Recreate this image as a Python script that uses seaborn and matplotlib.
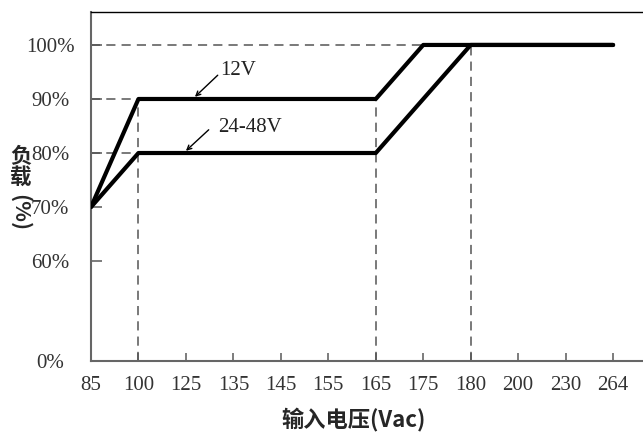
import matplotlib
matplotlib.use("Agg")
import matplotlib.pyplot as plt
import seaborn as sns
import pandas as pd

# input voltage ticks (evenly spaced categories on the chart)
voltages = ["85", "100", "125", "135", "145", "155", "165", "175", "180", "200", "230", "264"]
load_ticks = [0, 60, 70, 80, 90, 100]

# derating curves
v_12 = ["85", "100", "165", "175", "264"]
load_12 = [70, 90, 90, 100, 100]
v_24 = ["85", "100", "165", "180", "264"]
load_24 = [70, 80, 80, 100, 100]

# dashed guide lines: (load, voltage)
guides_h = [(100, "175"), (90, "100"), (80, "100")]
guides_v = [(90, "100"), (90, "165"), (100, "180")]

ZERO_POS = 41.5  # broken axis: 0% drawn just below 60%


def ypos(v):
    return v if v >= 60 else ZERO_POS


def xpos(v):
    return voltages.index(v)


df = pd.concat([
    pd.DataFrame({"x": [xpos(v) for v in v_12], "load": load_12, "series": "12V"}),
    pd.DataFrame({"x": [xpos(v) for v in v_24], "load": load_24, "series": "24-48V"}),
])

sns.set_style("ticks")
serif = ["Liberation Serif", "DejaVu Serif"]
cjk = ["Noto Sans CJK SC", "DejaVu Sans"]

fig = plt.figure(figsize=(6.43, 4.34), dpi=100)
ax = fig.add_axes([91 / 643, 1 - 361 / 434, 1 - 91 / 643, 349 / 434])

x_right = 11.63
ax.set_xlim(0, x_right)
ax.set_ylim(ZERO_POS, 106.1)

dash = dict(color="#555555", lw=1.1, ls=(0, (6, 4)), zorder=1)
for load, v in guides_h:
    ax.plot([0, xpos(v)], [load, load], **dash)
for load, v in guides_v:
    ax.plot([xpos(v), xpos(v)], [ZERO_POS, load], **dash)

sns.lineplot(data=df, x="x", y="load", hue="series", palette={"12V": "black", "24-48V": "black"},
             sort=False, estimator=None, lw=3, legend=False, ax=ax, zorder=3)

ax.annotate("", xy=(2.19, 90.4), xytext=(2.67, 94.4),
            arrowprops=dict(arrowstyle="->", lw=1, color="black", mutation_scale=8, shrinkA=0, shrinkB=0))
ax.annotate("", xy=(2.0, 80.4), xytext=(2.48, 84.3),
            arrowprops=dict(arrowstyle="->", lw=1, color="black", mutation_scale=8, shrinkA=0, shrinkB=0))
ax.text(2.72, 95.2, "12V", family=serif, fontsize=15, va="center", ha="left", color="#222222")
ax.text(2.67, 84.8, "24-48V", family=serif, fontsize=15, va="center", ha="left", color="#222222")

ax.set_xticks(range(len(voltages)))
ax.set_xticklabels(voltages, family=serif, fontsize=15, color="#333333")
ax.set_yticks([ypos(v) for v in load_ticks])
ax.set_yticklabels([f"{v}%" for v in load_ticks], family=serif, fontsize=15, color="#333333", ha="center")
ax.tick_params(axis="y", direction="in", length=8, width=1.2, color="#666666", pad=29.5)
ax.tick_params(axis="x", direction="in", length=6, width=1.2, color="#666666", pad=10.5)

for side in ["left", "bottom"]:
    ax.spines[side].set_color("#666666")
    ax.spines[side].set_linewidth(1.5)
ax.spines["top"].set_color("black")
ax.spines["top"].set_linewidth(1)
ax.spines["right"].set_visible(False)
ax.set_xlabel("")
ax.set_ylabel("")

# vertical y-axis title
fig.text(21 / 643, 1 - 167 / 434, "负\n载", family=cjk, fontsize=15.5, fontweight="bold",
         ha="center", va="center", linespacing=1.0)
fig.text(20 / 643, 1 - 213 / 434, "(%)", family=cjk, fontsize=15.5, fontweight="bold",
         ha="center", va="center", rotation=-90)
fig.text(354 / 643, 1 - 420 / 434, "输入电压(Vac)", family=cjk, fontsize=16, fontweight="bold",
         ha="center", va="center")

fig.savefig("out.png", dpi=100)
